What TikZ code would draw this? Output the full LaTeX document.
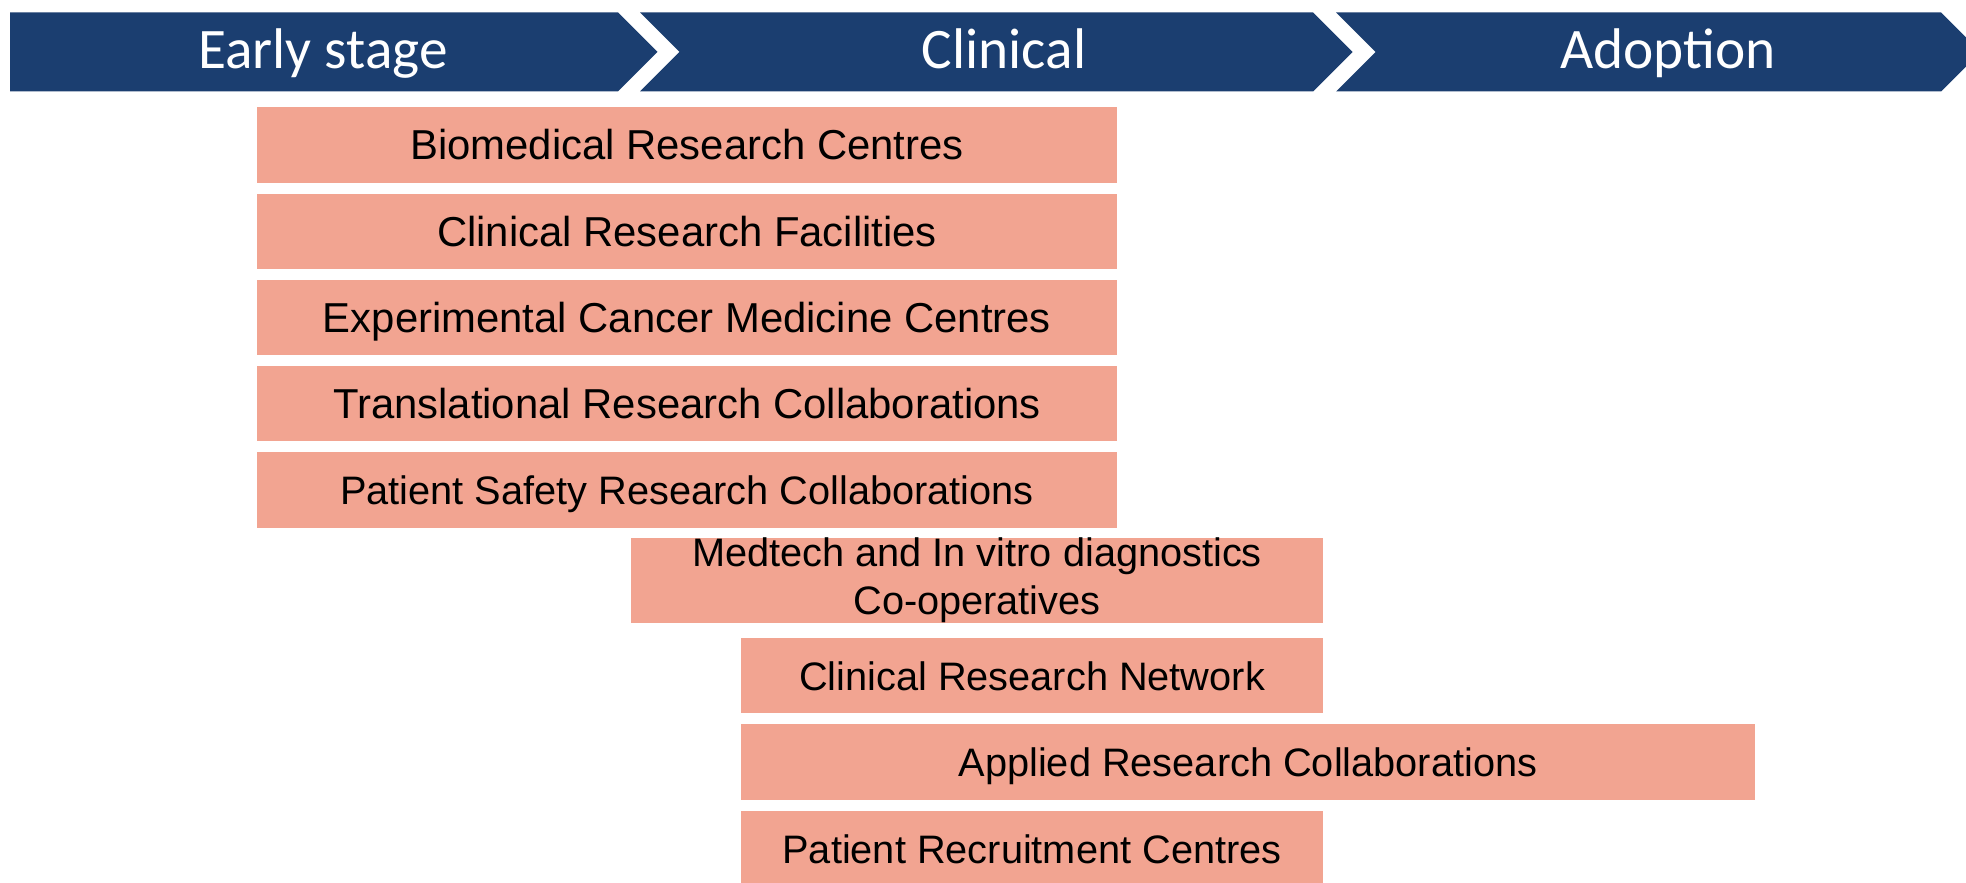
\documentclass[tikz,border=0pt]{standalone}
\usepackage{fontspec}
\setmainfont{Liberation Sans}
\newfontfamily\headfont{Carlito}
\definecolor{bandblue}{RGB}{27,62,112}
\definecolor{boxpink}{RGB}{242,164,145}

\begin{document}
\begin{tikzpicture}[x=0.01cm,y=-0.01cm,
        stage/.style={fill=bandblue},
        stagetext/.style={anchor=base,text=white,font=\headfont\fontsize{16.3}{18}\selectfont},
        unit/.style={fill=boxpink,inner sep=0pt,minimum height=0.75cm,text height=8.5pt,text depth=0pt,font=\fontsize{11.9}{13.4}\selectfont},
        small/.style={font=\fontsize{11.3}{13.6}\selectfont}]
            \useasboundingbox (0,0) rectangle (1966,883);
            %%%%%%%%%%%%%%%%%%%%%%%%%%%%%%%%%%%%%%%%%%stages
            \fill[stage] (10,12.5) -- (618,12.5) -- (657.5,52) -- (618,91.5) -- (10,91.5) -- cycle;
            \foreach \a/\b in {640/1313,1336/1941}
            {
                \fill[stage] (\a,12.5) -- (\b,12.5) -- (\b+39.5,52) -- (\b,91.5) -- (\a,91.5) -- (\a+39.5,52) -- cycle;
            }
            \node[stagetext] (early) at (323,69) {Early stage};
            \node[stagetext] (clinical) at (1004,69) {Clinical};
            \node[stagetext] (adoption) at (1668,69) {Adoption};
            %%%%%%%%%%%%%%%%%%%%%%%%%%%%%%%%%%%%%%%%%%units
            \foreach \i/\t in {1/Biomedical Research Centres,2/Clinical Research Facilities,3/Experimental Cancer Medicine Centres,4/Translational Research Collaborations}
            {
                \node[unit,minimum width=8.6cm] (row\i) at (687,{145+86.25*(\i-1)}) {\t};
            }
            \node[unit,small,minimum width=8.6cm] (row5) at (687,490) {Patient Safety Research Collaborations};
            \node[unit,small,minimum width=6.92cm,minimum height=0.85cm,text height=,text depth=,align=center] (medtech) at (977,580.5) {Medtech and In vitro diagnostics\\Co-operatives};
            \node[unit,small,minimum width=5.82cm] (crn) at (1032,675.5) {Clinical Research Network};
            \node[unit,small,minimum width=10.14cm] (arc) at (1248,762) {Applied Research Collaborations};
            \node[unit,small,minimum width=5.82cm] (prc) at (1032,848.5) {Patient Recruitment Centres};
        \end{tikzpicture}
\end{document}
